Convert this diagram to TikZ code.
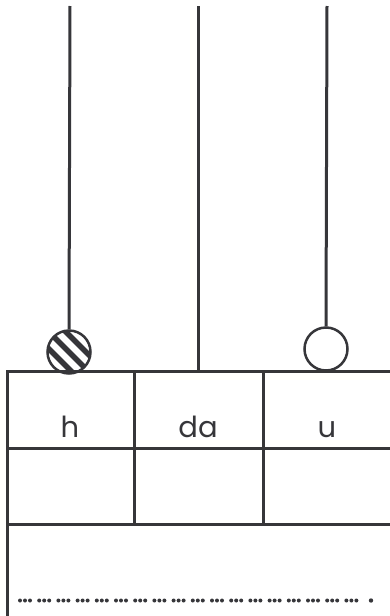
\documentclass[tikz,border=0pt]{standalone}
\usepackage{fontspec}
\setmainfont{Poppins}
\usetikzlibrary{calc}
\definecolor{ink}{HTML}{36363A}
\tikzstyle{rod} = [line width=3pt, draw=ink]
\tikzstyle{rule} = [line width=3pt, draw=ink, line cap=rect]
\tikzstyle{bead} = [circle, minimum size=43pt, inner sep=0pt, draw=ink, line width=2.5pt]
\tikzstyle{stripe} = [line width=5.5pt, draw=ink]
\tikzstyle{digit} = [font=\fontsize{29}{34}\selectfont, text=ink, anchor=base]
\tikzstyle{dotrow} = [line width=4pt, draw=ink, line cap=round, dash pattern=on 0pt off 5pt on 0pt off 5pt on 0pt off 9.2pt]

\begin{document}
\begin{tikzpicture}[x=1pt,y=-1pt]
    \useasboundingbox (0,0) rectangle (389,616);
    % rods
    \coordinate (top h) at (70,6);
    \coordinate (top da) at (198,6);
    \coordinate (top u) at (327,6);
    \coordinate (foot da) at (198,371);
    % beads
    \node (bead h) [bead, path picture={
        \foreach \d in {-34,-17,...,34}
            \draw [stripe] ($(path picture bounding box.center)+(\d-30,-30)$) -- ++(60,60);
    }] at (69,352) {};
    \node (bead u) [bead] at (326,349) {};
    \draw [rod] (top h) -- (bead h.north);
    \draw [rod] (top da) -- (foot da);
    \draw [rod] (top u) -- (bead u.north);
    % table
    \draw [rule] (389,371) -- (7,371) -- (7,617);
    \draw [rule] (7,448) -- (389,448);
    \draw [rule] (7,524) -- (389,524);
    \draw [rule] (134,371) -- (134,524);
    \draw [rule] (263,371) -- (263,524);
    \node (cell h) [digit] at (70,437) {h};
    \node (cell da) [digit] at (198,437) {da};
    \node (cell u) [digit] at (327,437) {u};
    % answer line
    \coordinate (dots start) at (20,600.5);
    \coordinate (dots end) at (357,600.5);
    \draw [dotrow] (dots start) -- (dots end);
    \fill [ink] (371,600.5) circle (2.2);
\end{tikzpicture}
\end{document}
